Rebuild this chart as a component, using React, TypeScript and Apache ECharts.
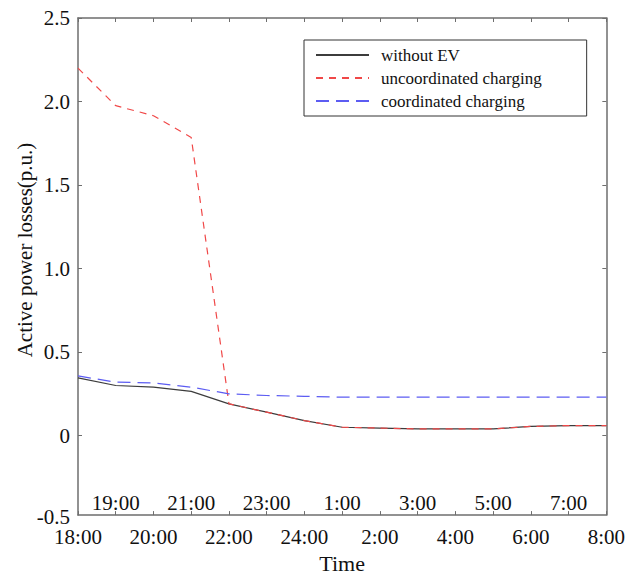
import React, { useEffect, useRef } from "react";
import * as echarts from "echarts";

const hours = [18, 19, 20, 21, 22, 23, 24, 25, 26, 27, 28, 29, 30, 31, 32];
const withoutEV = [0.345, 0.3, 0.29, 0.265, 0.19, 0.14, 0.09, 0.05, 0.045, 0.04, 0.04, 0.04, 0.055, 0.06, 0.06];
const uncoordinated = [2.2, 1.975, 1.915, 1.785, 0.19, 0.14, 0.09, 0.05, 0.045, 0.04, 0.04, 0.04, 0.055, 0.06, 0.06];
const coordinated = [0.357, 0.32, 0.315, 0.29, 0.25, 0.24, 0.235, 0.23, 0.23, 0.23, 0.23, 0.23, 0.23, 0.23, 0.23];
const seriesNames = ["without EV", "uncoordinated charging", "coordinated charging"];
const yTickValues = [0, 0.5, 1.0, 1.5, 2.0, 2.5];
const yBottomLabel = "-0.5";
const yRange = { min: -0.476, max: 2.5 };

const FONT = "'Liberation Serif', 'Times New Roman', serif";
const AXIS_COLOR = "#6e6e6e";

function hourLabel(h: number): string {
  const hh = h <= 24 ? h : h - 24;
  return hh + ":00";
}

export default function App() {
  const ref = useRef<HTMLDivElement>(null);
  useEffect(() => {
    if (!ref.current) return;
    const chart = echarts.init(ref.current, undefined, { renderer: "svg" });
    const pairs = (arr: number[]) => hours.map((h, i) => [h, arr[i]]);
    const baseX = {
      type: "value" as const,
      min: hours[0],
      max: hours[hours.length - 1],
      interval: 1,
      splitLine: { show: false },
    };
    const baseY = {
      type: "value" as const,
      min: yRange.min,
      max: yRange.max,
      splitLine: { show: false },
    };
    chart.setOption({
      animation: false,
      backgroundColor: "#ffffff",
      grid: { left: 78, top: 18, right: 18, bottom: 55, containLabel: false },
      legend: {
        orient: "vertical",
        left: 304,
        top: 40,
        padding: [6, 45, 6, 11],
        itemWidth: 53,
        itemHeight: 14,
        itemGap: 5,
        borderColor: "#333",
        borderWidth: 1,
        backgroundColor: "#fff",
        itemStyle: { opacity: 0 },
        data: seriesNames,
        textStyle: { fontFamily: FONT, fontSize: 17, lineHeight: 18, color: "#111", padding: [0, 0, 0, 7] },
      },
      xAxis: [
        {
          ...baseX,
          position: "bottom",
          name: "Time",
          nameLocation: "middle",
          nameGap: 34,
          nameTextStyle: { fontFamily: FONT, fontSize: 22, color: "#111" },
          axisLine: { show: true, onZero: false, lineStyle: { color: AXIS_COLOR, width: 1.5 } },
          axisTick: { show: true, inside: true, length: 4, lineStyle: { color: AXIS_COLOR } },
          axisLabel: {
            fontFamily: FONT,
            fontSize: 21,
            color: "#111",
            margin: 11,
            formatter: (v: number) => ((v - hours[0]) % 2 === 0 ? hourLabel(v) : ""),
          },
        },
        {
          ...baseX,
          position: "bottom",
          axisLine: { show: false, onZero: false },
          axisTick: { show: false },
          axisLabel: {
            inside: true,
            fontFamily: FONT,
            fontSize: 21,
            color: "#111",
            margin: 2,
            formatter: (v: number) => ((v - hours[0]) % 2 === 1 ? hourLabel(v) : ""),
          },
        },
        {
          ...baseX,
          position: "top",
          axisLine: { show: true, onZero: false, lineStyle: { color: AXIS_COLOR, width: 1.5 } },
          axisTick: { show: true, inside: true, length: 4, lineStyle: { color: AXIS_COLOR } },
          axisLabel: { show: false },
        },
      ],
      yAxis: [
        {
          ...baseY,
          position: "left",
          axisLine: { show: true, onZero: false, lineStyle: { color: AXIS_COLOR, width: 1.5 } },
          axisTick: { show: true, inside: true, length: 4, customValues: yTickValues, lineStyle: { color: AXIS_COLOR } },
          axisLabel: {
            fontFamily: FONT,
            fontSize: 21,
            color: "#111",
            margin: 8,
            customValues: yTickValues,
            formatter: (v: number) => (v === 0 ? "0" : v.toFixed(1)),
          },
        },
        {
          ...baseY,
          position: "right",
          axisLine: { show: true, onZero: false, lineStyle: { color: AXIS_COLOR, width: 1.5 } },
          axisTick: { show: true, inside: true, length: 4, customValues: yTickValues, lineStyle: { color: AXIS_COLOR } },
          axisLabel: { show: false, customValues: yTickValues },
        },
      ],
      graphic: [
        {
          type: "text",
          x: 25,
          y: 250,
          rotation: Math.PI / 2,
          style: {
            text: "Active power losses(p.u.)",
            fontFamily: FONT,
            fontSize: 21,
            fill: "#111",
            textAlign: "center",
            textVerticalAlign: "middle",
          },
        },
        {
          type: "text",
          x: 70,
          y: 517,
          style: {
            text: yBottomLabel,
            fontFamily: FONT,
            fontSize: 21,
            fill: "#111",
            textAlign: "right",
            textVerticalAlign: "middle",
          },
        },
      ],
      series: [
        {
          name: seriesNames[0],
          type: "line",
          xAxisIndex: 0,
          yAxisIndex: 0,
          data: pairs(withoutEV),
          symbol: "none",
          lineStyle: { color: "#3c3c3c", width: 1.2, type: "solid" },
          itemStyle: { color: "#3c3c3c" },
        },
        {
          name: seriesNames[1],
          type: "line",
          xAxisIndex: 0,
          yAxisIndex: 0,
          data: pairs(uncoordinated),
          symbol: "none",
          lineStyle: { color: "#f04848", width: 1.2, type: [7, 6] },
          itemStyle: { color: "#f04848" },
        },
        {
          name: seriesNames[2],
          type: "line",
          xAxisIndex: 0,
          yAxisIndex: 0,
          data: pairs(coordinated),
          symbol: "none",
          lineStyle: { color: "#5c5cf2", width: 1.2, type: [13, 7] },
          itemStyle: { color: "#5c5cf2" },
        },
      ],
    });
    return () => chart.dispose();
  }, []);
  return (
    <div
      ref={ref}
      style={{ position: "absolute", left: 0, top: 0, width: 628, height: 579, background: "#fff" }}
    />
  );
}
